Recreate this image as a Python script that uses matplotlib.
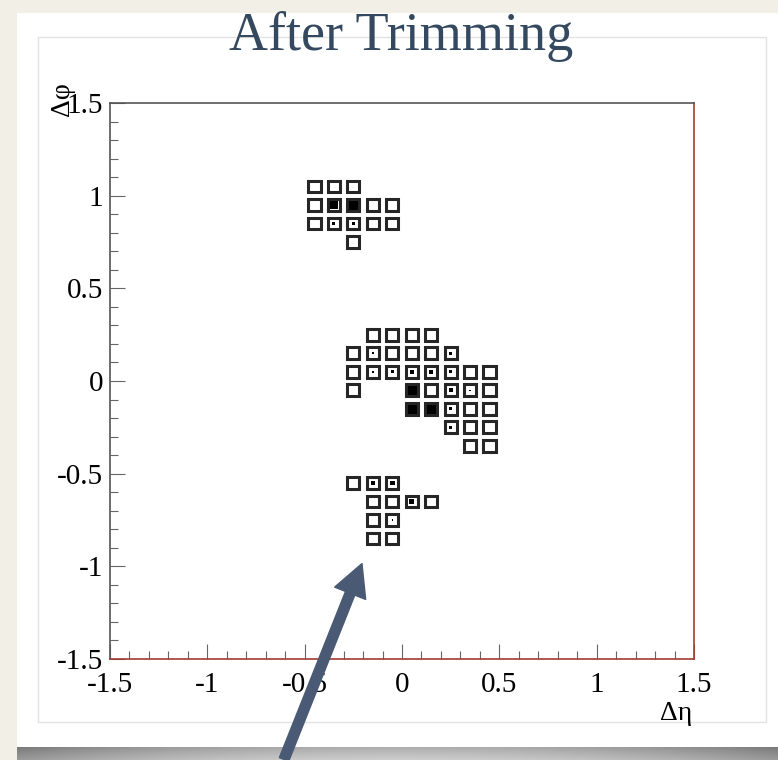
import numpy as np
import matplotlib
matplotlib.use("Agg")
import matplotlib.pyplot as plt
from matplotlib.patches import Rectangle, FancyArrowPatch
from matplotlib.ticker import MultipleLocator

# cells of the trimmed jet: eta, phi, core fraction (0 = open box, 1 = full)
cell_eta = [-0.45, -0.35, -0.25,
            -0.45, -0.35, -0.25, -0.15, -0.05,
            -0.45, -0.35, -0.25, -0.15, -0.05,
            -0.25,
            -0.15, -0.05, 0.05, 0.15,
            -0.25, -0.15, -0.05, 0.05, 0.15, 0.25,
            -0.25, -0.15, -0.05, 0.05, 0.15, 0.25, 0.35, 0.45,
            -0.25, 0.05, 0.15, 0.25, 0.35, 0.45,
            0.05, 0.15, 0.25, 0.35, 0.45,
            0.25, 0.35, 0.45,
            0.35, 0.45,
            -0.25, -0.15, -0.05,
            -0.15, -0.05, 0.05, 0.15,
            -0.15, -0.05,
            -0.15, -0.05]
cell_phi = [1.05, 1.05, 1.05,
            0.95, 0.95, 0.95, 0.95, 0.95,
            0.85, 0.85, 0.85, 0.85, 0.85,
            0.75,
            0.25, 0.25, 0.25, 0.25,
            0.15, 0.15, 0.15, 0.15, 0.15, 0.15,
            0.05, 0.05, 0.05, 0.05, 0.05, 0.05, 0.05, 0.05,
            -0.05, -0.05, -0.05, -0.05, -0.05, -0.05,
            -0.15, -0.15, -0.15, -0.15, -0.15,
            -0.25, -0.25, -0.25,
            -0.35, -0.35,
            -0.55, -0.55, -0.55,
            -0.65, -0.65, -0.65, -0.65,
            -0.75, -0.75,
            -0.85, -0.85]
cell_core = [0, 0, 0,
             0, 0.8, 1.0, 0, 0,
             0, 0.3, 0.3, 0, 0,
             0,
             0, 0, 0, 0,
             0, 0.25, 0, 0, 0, 0.3,
             0, 0.2, 0.3, 0.45, 0.4, 0.35, 0, 0,
             0, 1.0, 0, 0.4, 0.15, 0,
             1.0, 1.0, 0.35, 0, 0,
             0.3, 0, 0,
             0, 0,
             0, 0.35, 0.5,
             0, 0, 0.55, 0,
             0, 0.15,
             0, 0]

tick_vals = [-1.5, -1, -0.5, 0, 0.5, 1, 1.5]
tick_text = ['-1.5', '-1', '-0.5', '0', '0.5', '1', '1.5']

W, H = 778, 760
fig = plt.figure(figsize=(W / 100, H / 100), dpi=100)
fig.patch.set_facecolor('#f2efe7')

def fx(x):
    return x / W

def fy(y):
    return 1 - y / H

# white card + inner panel, kept behind the axes
bg = fig.add_axes([0, 0, 1, 1], zorder=-10)
bg.axis('off')
bg.add_patch(Rectangle((17, 13), W - 17, 747 - 13, facecolor='white',
                       edgecolor='none'))
bg.add_patch(Rectangle((38, 37), 766 - 38, 722 - 37, facecolor='white',
                       edgecolor='#e2e2e2', lw=1.0))
gx = np.linspace(-1, 1, 200)
gy = np.linspace(0, 1, 13)[:, None]
shade = 0.60 + 0.2 * (1 - gx[None, :] ** 2) - 0.12 * (1 - gy)
bg.imshow(shade, cmap='gray', vmin=0, vmax=1, aspect='auto',
          extent=(17, W, 760, 747))
bg.set_xlim(0, W)
bg.set_ylim(H, 0)

ax = fig.add_axes([fx(110), fy(659), fx(694 - 110), (659 - 103) / H], zorder=5)
ax.set_xlim(-1.5, 1.5)
ax.set_ylim(-1.5, 1.5)
ax.patch.set_alpha(0)

box = 0.063
inner = 0.05
for e, p, c in zip(cell_eta, cell_phi, cell_core):
    full = c >= 1
    ax.add_patch(Rectangle((e - box / 2, p - box / 2), box, box,
                           facecolor='black' if full else 'none',
                           edgecolor='#262626', lw=2.2))
    if 0 < c < 1:
        s = inner * c
        ax.add_patch(Rectangle((e - s / 2, p - s / 2), s, s,
                               facecolor='black', edgecolor='none'))

ax.set_xticks(tick_vals)
ax.set_xticklabels(tick_text)
ax.set_yticks(tick_vals)
ax.set_yticklabels(tick_text)
ax.xaxis.set_minor_locator(MultipleLocator(0.1))
ax.yaxis.set_minor_locator(MultipleLocator(0.1))
ax.tick_params(which='both', direction='in', color='#666666', width=0.8,
               top=False, right=False)
ax.tick_params(which='major', length=11, labelsize=21)
ax.tick_params(which='minor', length=5.5)
ax.tick_params(axis='x', which='major', pad=9)
ax.tick_params(axis='y', which='major', pad=5)
for lab in ax.get_xticklabels() + ax.get_yticklabels():
    lab.set_family('Liberation Serif')

ax.spines['left'].set_color('#555555')
ax.spines['top'].set_color('#555555')
ax.spines['bottom'].set_color('#a53a32')
ax.spines['right'].set_color('#a53a32')
for s in ax.spines.values():
    s.set_linewidth(1.2)

fig.text(fx(62), fy(99), 'Δφ', rotation=90, ha='center', va='center',
         fontsize=20, family='Liberation Serif', zorder=6)
fig.text(fx(676), fy(713), 'Δη', ha='center', va='center',
         fontsize=20, family='Liberation Serif', zorder=6)
fig.text(fx(401), fy(36), 'After Trimming', ha='center', va='center',
         fontsize=39, family='Liberation Serif', color='#34495f', zorder=6)

arrow = FancyArrowPatch((fx(283), fy(762)), (fx(363), fy(561)),
                        transform=fig.transFigure,
                        arrowstyle='simple,head_length=1.15,head_width=1.2,tail_width=0.36',
                        mutation_scale=20, color='#4a5a74', zorder=10)
fig.patches.append(arrow)

fig.savefig('out.png', dpi=100, facecolor=fig.get_facecolor())
